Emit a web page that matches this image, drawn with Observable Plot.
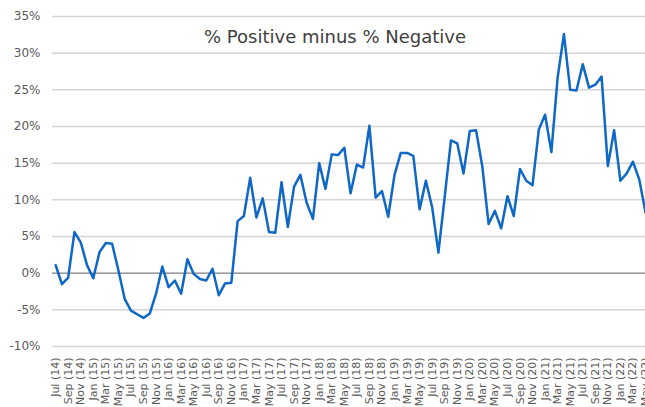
<!DOCTYPE html>
<html>
<head>
<meta charset="utf-8">
<script src="https://cdn.jsdelivr.net/npm/d3@7"></script>
<script src="https://cdn.jsdelivr.net/npm/@observablehq/plot@0.6"></script>
<style>
  html, body { margin: 0; padding: 0; background: #fff; overflow: hidden; }
</style>
</head>
<body>
<div id="chart"></div>
<script>
const title = "% Positive minus % Negative";

// Monthly values (%), Jul 2014 .. May 2022
const values = [
  1.1, -1.5, -0.6, 5.6, 4.2, 1.1, -0.7, 2.9, 4.1, 4.0,
  0.4, -3.5, -5.1, -5.6, -6.1, -5.5, -2.8, 0.9, -1.9, -1.0,
  -2.8, 1.9, -0.1, -0.8, -1.0, 0.6, -3.0, -1.4, -1.3, 7.1,
  7.8, 13.0, 7.6, 10.2, 5.6, 5.5, 12.4, 6.3, 11.8, 13.4,
  9.6, 7.4, 15.0, 11.5, 16.2, 16.1, 17.1, 10.9, 14.8, 14.4,
  20.1, 10.3, 11.2, 7.7, 13.4, 16.4, 16.4, 16.0, 8.7, 12.6,
  9.0, 2.8, 10.4, 18.1, 17.7, 13.6, 19.4, 19.5, 14.5, 6.7,
  8.5, 6.1, 10.5, 7.8, 14.2, 12.6, 12.0, 19.6, 21.6, 16.5,
  26.7, 32.6, 25.0, 24.9, 28.5, 25.3, 25.7, 26.8, 14.6, 19.5,
  12.6, 13.6, 15.2, 12.8, 8.3
];

// Category tick labels (every second month)
const xLabels = [
  "Jul (14)", "Sep (14)", "Nov (14)",
  "Jan (15)", "Mar (15)", "May (15)", "Jul (15)", "Sep (15)", "Nov (15)",
  "Jan (16)", "Mar (16)", "May (16)", "Jul (16)", "Sep (16)", "Nov (16)",
  "Jan (17)", "Mar (17)", "May (17)", "Jul (17)", "Sep (17)", "Nov (17)",
  "Jan (18)", "Mar (18)", "May (18)", "Jul (18)", "Sep (18)", "Nov (18)",
  "Jan (19)", "Mar (19)", "May (19)", "Jul (19)", "Sep (19)", "Nov (19)",
  "Jan (20)", "Mar (20)", "May (20)", "Jul (20)", "Sep (20)", "Nov (20)",
  "Jan (21)", "Mar (21)", "May (21)", "Jul (21)", "Sep (21)", "Nov (21)",
  "Jan (22)", "Mar (22)", "May (22)"
];

const yTicks = [-10, -5, 0, 5, 10, 15, 20, 25, 30, 35];

const data = values.map((v, i) => ({i, v}));
const xTickIdx = xLabels.map((_, k) => k * 2);

const chart = Plot.plot({
  width: 645,
  height: 407,
  marginLeft: 52,
  marginRight: 0,
  marginTop: 16,
  marginBottom: 61,
  style: {fontFamily: "DejaVu Sans", fontSize: "12px", color: "#595959", background: "#fff", overflow: "visible"},
  x: {type: "linear", domain: [-0.5, values.length - 1], axis: null, label: null},
  y: {domain: [-10, 35], axis: null, label: null},
  marks: [
    Plot.gridY(yTicks, {stroke: "#d4d4d4", strokeOpacity: 1, strokeWidth: 1.5}),
    Plot.ruleY([0], {stroke: "#9a9a9a", strokeWidth: 1.5}),
    Plot.axisY(yTicks, {tickSize: 0, tickPadding: 12, tickFormat: d => d + "%", fontSize: 12, fill: "#595959", label: null}),
    Plot.axisX(xTickIdx, {tickSize: 0, tickRotate: -90, tickPadding: 11, tickFormat: d => xLabels[d / 2], fontSize: 11, fill: "#595959", label: null}),
    Plot.line(data, {x: "i", y: "v", stroke: "#0f67c6", strokeWidth: 2.5}),
    Plot.text([title], {frameAnchor: "top", dx: -14, dy: 14, fontSize: 18, fill: "#404040"})
  ]
});
document.getElementById("chart").append(chart);
</script>
</body>
</html>
